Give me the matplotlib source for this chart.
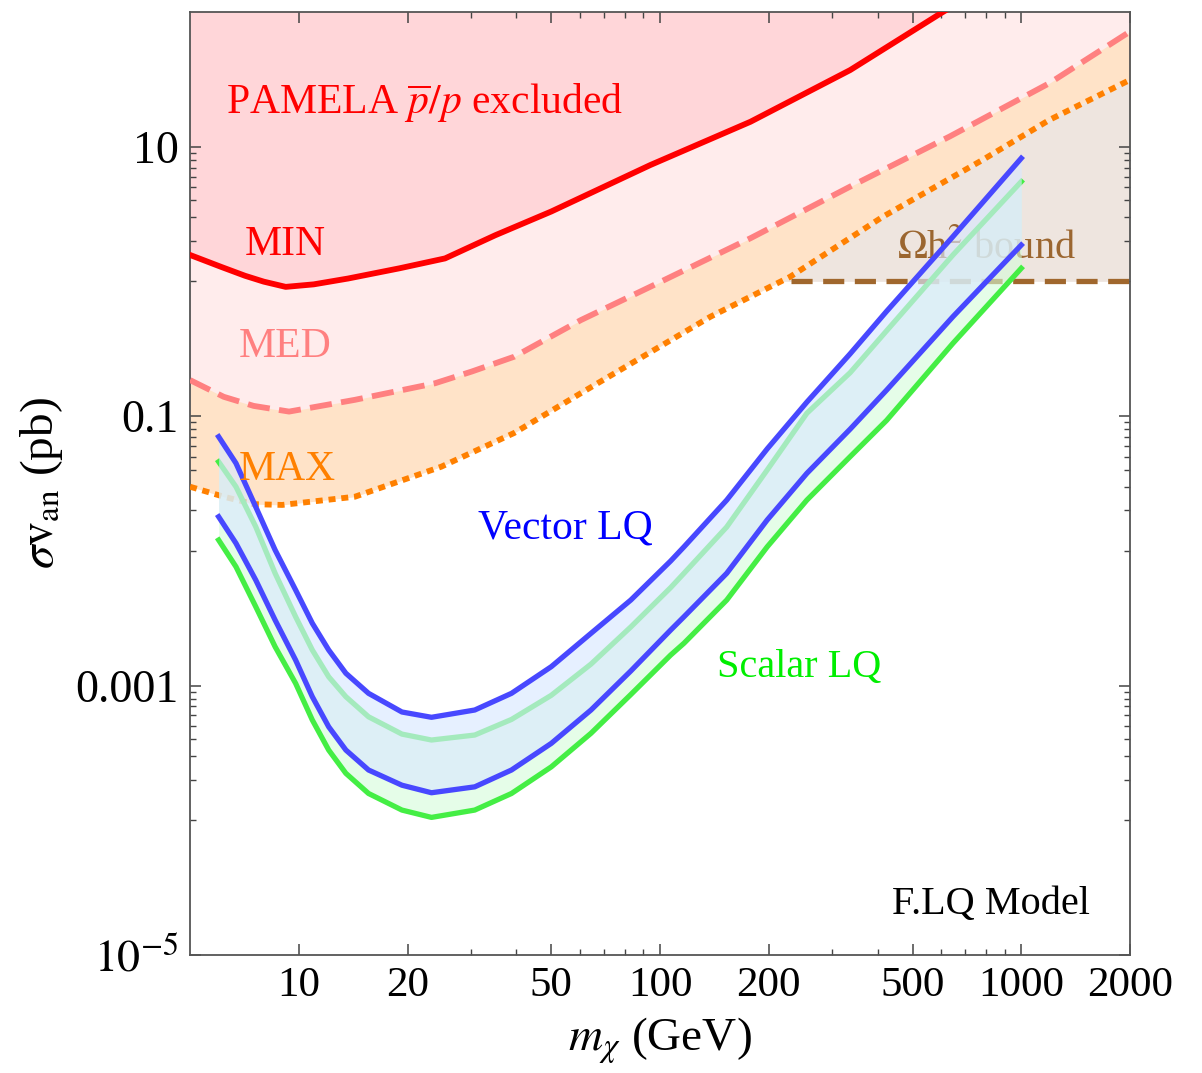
import matplotlib
matplotlib.use("Agg")
import matplotlib.pyplot as plt
import numpy as np

plt.rcParams['font.family'] = ['Liberation Serif', 'DejaVu Serif']
plt.rcParams['mathtext.fontset'] = 'stix'

# PAMELA antiproton limits (m in GeV, sigma v in pb)
min_m = [5, 6.1, 7.1, 8, 9.2, 11, 13.7, 19, 25.4, 35, 50, 94, 178, 336, 600, 2000]
min_s = [1.57, 1.28, 1.1, 0.995, 0.91, 0.95, 1.05, 1.25, 1.48, 2.2, 3.3, 7.3,
         15.3, 37, 98, 700]

med_m = [5, 6.2, 7.5, 9.4, 14.3, 23.8, 30.1, 39.5, 60.4, 94.2, 178, 336, 634, 1197, 2000]
med_s = [0.185, 0.139, 0.119, 0.108, 0.132, 0.175, 0.214, 0.276, 0.516, 0.914,
         2.09, 5.05, 11.9, 29.6, 71.5]

max_m = [5, 6.2, 7.5, 9, 14.3, 24.8, 39.5, 60.4, 138, 229, 414, 781, 1197, 2000]
max_s = [0.0299, 0.0252, 0.0222, 0.0219, 0.0252, 0.0421, 0.075, 0.148, 0.547,
         1.08, 3.02, 7.96, 15.8, 31.3]

# relic density bound
omega_s = 1.0
omega_m = [230, 2000]

# leptoquark model curves
lq_m = [6, 6.7, 7.6, 8.6, 9.8, 10.9, 12.1, 13.5, 15.6, 19.3, 23.3, 30.7, 38.8, 50,
        64.4, 83, 107, 116.5, 153, 198, 255, 336, 424, 647, 1000]
vec_hi = [0.0703, 0.0447, 0.0212, 0.01014, 0.00512, 0.0029, 0.001836, 0.001233,
          8.75e-4, 6.36e-4, 5.81e-4, 6.58e-4, 8.75e-4, 1.38e-3, 2.44e-3, 4.31e-3,
          8.4e-3, 0.0107, 0.0238, 0.0571, 0.127, 0.29, 0.6, 2.15, 8.2]
vec_lo = [0.0179, 0.01138, 0.00607, 0.00306, 0.001545, 8.26e-4, 4.94e-4, 3.32e-4,
          2.36e-4, 1.82e-4, 1.6e-4, 1.77e-4, 2.36e-4, 3.72e-4, 6.58e-4, 1.282e-3,
          2.58e-3, 3.24e-3, 6.81e-3, 0.01694, 0.0376, 0.08, 0.156, 0.547, 1.86]
sca_hi = [0.0458, 0.0299, 0.0151, 0.00681, 0.00324, 0.001836, 0.001161, 8.26e-4,
          5.86e-4, 4.36e-4, 3.94e-4, 4.29e-4, 5.6e-4, 8.46e-4, 1.442e-3, 2.72e-3,
          5.33e-3, 6.81e-3, 0.01503, 0.0398, 0.105, 0.21, 0.43, 1.57, 5.5]
sca_lo = [0.01202, 0.00762, 0.00385, 0.00194, 0.001038, 5.55e-4, 3.32e-4, 2.23e-4,
          1.58e-4, 1.19e-4, 1.05e-4, 1.19e-4, 1.58e-4, 2.49e-4, 4.42e-4, 8.57e-4,
          1.683e-3, 2.06e-3, 4.31e-3, 0.0107, 0.0238, 0.05, 0.093, 0.347, 1.25]

x_major = [10, 20, 50, 100, 200, 500, 1000, 2000]
x_minor = [30, 40, 60, 70, 80, 90, 300, 400, 600, 700, 800, 900]
y_major = [1e-5, 1e-3, 1e-1, 10]
y_labels = [r'$10^{-5}$', '0.001', '0.1', '10']
y_minor = [j * 10.0 ** k for k in (-4, -2, 0) for j in range(1, 10)]

fig = plt.figure(figsize=(12.02, 10.73), dpi=100)
ax = fig.add_axes([0.1581, 0.1100, 0.7820, 0.8789])
ax.set_xscale('log')
ax.set_yscale('log')
ax.set_xlim(5, 2000)
ax.set_ylim(1e-5, 100)

top = 1e4
ax.fill_between(max_m, max_s, top, color='#FFE3C8', lw=0, zorder=1)
ax.fill_between(med_m, med_s, top, color='#FFECEC', lw=0, zorder=1.1)
ax.fill_between(min_m, min_s, top, color='#FFD6D9', lw=0, zorder=1.2)
mx = np.array(max_s)
ax.fill_between(max_m, omega_s, mx, where=mx >= omega_s, interpolate=True,
                color='#EEE5DF', lw=0, zorder=1.3)

ax.text(453, 1.77, r'$\Omega$h$^2$ bound', color='#9B6630', fontsize=29,
        ha='left', va='center', zorder=2)
ax.plot(omega_m, [omega_s, omega_s], color='#A0672D', lw=3.8, dashes=(4, 2),
        zorder=2.5)

ax.plot(min_m, min_s, color='#FF0000', lw=4.2, zorder=3)
ax.plot(med_m, med_s, color='#FF8080', lw=4.2, dashes=(3.8, 1.6), zorder=3)
ax.plot(max_m, max_s, color='#FF8000', lw=4.2, dashes=(1.2, 1.0), zorder=3)

# scalar LQ band, then vector LQ band on top
ax.fill_between(lq_m, sca_lo, sca_hi, color='#D5FCD9', alpha=0.6, lw=0, zorder=4)
ax.plot(lq_m, sca_hi, color='#44EE44', lw=3.8, zorder=4.5)
ax.plot(lq_m, sca_lo, color='#44EE44', lw=3.8, zorder=4.5)
ax.fill_between(lq_m, vec_lo, vec_hi, color='#D9E8FF', alpha=0.65, lw=0, zorder=5)
ax.plot(lq_m, vec_hi, color='#4848FF', lw=3.8, zorder=6)
ax.plot(lq_m, vec_lo, color='#4848FF', lw=3.8, zorder=6)

ax.text(6.3, 21, r'PAMELA $\overline{p}/p$ excluded', color='#FF0000',
        fontsize=30, ha='left', va='center', zorder=7)
ax.text(7.1, 1.86, 'MIN', color='#FF0000', fontsize=30, ha='left', va='center', zorder=7)
ax.text(6.84, 0.326, 'MED', color='#FF8080', fontsize=30, ha='left', va='center', zorder=7)
ax.text(6.84, 0.0398, 'MAX', color='#FF8000', fontsize=30, ha='left', va='center', zorder=7)
ax.text(31.4, 0.0148, 'Vector LQ', color='#0000FF', fontsize=30, ha='left',
        va='center', zorder=7)
ax.text(144, 1.35e-3, 'Scalar LQ', color='#00EE00', fontsize=29, ha='left',
        va='center', zorder=7)
ax.text(0.957, 0.053, 'F.LQ Model', color='black', fontsize=29, ha='right',
        va='center', transform=ax.transAxes, zorder=7)

ax.set_xticks(x_major)
ax.set_xticklabels([str(v) for v in x_major])
ax.set_xticks(x_minor, minor=True)
ax.set_xticklabels([], minor=True)
ax.set_yticks(y_major)
ax.set_yticklabels(y_labels)
ax.set_yticks(y_minor, minor=True)
ax.set_yticklabels([], minor=True)

ax.tick_params(which='both', direction='in', top=True, right=True,
               color='#444444')
ax.tick_params(axis='x', labelsize=31)
ax.tick_params(axis='y', labelsize=33)
ax.tick_params(which='major', length=8, width=1.1, pad=8)
ax.tick_params(which='minor', length=4.5, width=1.0)
for s in ax.spines.values():
    s.set_color('#555555')
    s.set_linewidth(1.3)

ax.set_xlabel(r'$m_\chi$ (GeV)', fontsize=34, labelpad=8)
ax.set_ylabel(r'$\sigma\mathrm{v}_{\mathrm{an}}$ (pb)', fontsize=34, labelpad=8)

fig.savefig('out.png', dpi=100)
